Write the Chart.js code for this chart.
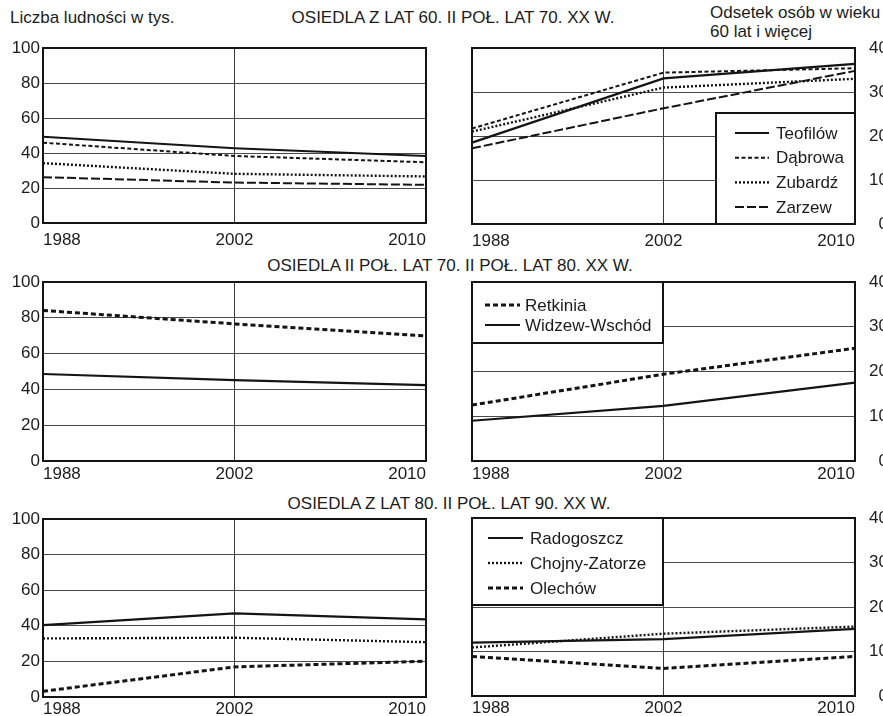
<!DOCTYPE html>
<html lang="pl">
<head>
<meta charset="utf-8">
<title>Osiedla Łodzi – ludność i odsetek osób starszych</title>
<script src="https://cdn.jsdelivr.net/npm/chart.js@4.4.1/dist/chart.umd.min.js"></script>
<style>
  html, body { margin: 0; padding: 0; width: 883px; height: 716px; overflow: hidden; background: #fff; }
  body { position: relative; font-family: "Liberation Sans", Arial, sans-serif; color: #1c1c1c; }
  .t { position: absolute; font-size: 17px; line-height: 19px; white-space: nowrap; }
  .c { text-align: center; }
  canvas { position: absolute; }
</style>
</head>
<body>
<div class="t" style="left:10px;top:8px;">Liczba ludności w tys.</div>
<div class="t c" style="left:253px;width:400px;top:8px;">OSIEDLA Z LAT 60. II POŁ. LAT 70. XX W.</div>
<div class="t" style="left:710px;top:3px;">Odsetek osób w wieku<br>60 lat i więcej</div>
<div class="t c" style="left:250px;width:400px;top:256px;">OSIEDLA II POŁ. LAT 70. II POŁ. LAT 80. XX W.</div>
<div class="t c" style="left:249px;width:400px;top:494px;">OSIEDLA Z LAT 80. II POŁ. LAT 90. XX W.</div>

<canvas id="pop1" width="440" height="250" style="left:0;top:0;"></canvas>
<canvas id="old1" width="448" height="250" style="left:440px;top:0;"></canvas>
<canvas id="pop2" width="440" height="240" style="left:0;top:250px;"></canvas>
<canvas id="old2" width="448" height="240" style="left:440px;top:250px;"></canvas>
<canvas id="pop3" width="440" height="226" style="left:0;top:490px;"></canvas>
<canvas id="old3" width="448" height="226" style="left:440px;top:490px;"></canvas>

<script>
// Years on the horizontal axis
const years = ['1988', '2002', '2010'];

// Osiedla z lat 60. – II poł. lat 70.: liczba ludności (tys.)
const teofilowPop = [49.3, 42.7, 38.3];
const dabrowaPop  = [45.9, 38.3, 34.7];
const zubardzPop  = [34.2, 28.1, 26.6];
const zarzewPop   = [26.2, 23.1, 21.8];
// ... i odsetek osób w wieku 60+ (%)
const teofilowOld = [18.5, 33.1, 36.4];
const dabrowaOld  = [21.7, 34.4, 35.4];
const zubardzOld  = [21.0, 31.0, 33.0];
const zarzewOld   = [17.2, 26.3, 34.8];

// Osiedla II poł. lat 70. – II poł. lat 80.
const retkiniaPop = [84.1, 76.6, 69.9];
const widzewPop   = [48.6, 45.2, 42.4];
const retkiniaOld = [12.5, 19.4, 25.2];
const widzewOld   = [9.0, 12.3, 17.5];

// Osiedla z lat 80. – II poł. lat 90.
const radogoszczPop = [40.4, 47.0, 43.6];
const chojnyPop     = [32.9, 33.3, 30.8];
const olechowPop    = [3.2, 16.9, 20.1];
const radogoszczOld = [12.0, 12.8, 15.1];
const chojnyOld     = [10.9, 14.0, 15.6];
const olechowOld    = [8.9, 6.2, 8.9];

// Axis ranges
const popMax = 100, popStep = 20;
const oldMax = 40, oldStep = 10;

// Line looks
const INK = '#141414';
const styles = {
  solid:    { borderDash: [],       borderWidth: 2.2 },
  shortDash:{ borderDash: [4, 2.5], borderWidth: 2 },
  dotted:   { borderDash: [2, 2],   borderWidth: 2.4 },
  longDash: { borderDash: [9, 3],   borderWidth: 2 },
  boldDash: { borderDash: [5, 3],   borderWidth: 3 }
};
const FONT = { family: '"Liberation Sans", Arial, sans-serif', size: 17 };

function series(label, data, look) {
  return Object.assign({
    label, data,
    borderColor: INK,
    backgroundColor: INK,
    pointRadius: 0,
    pointHoverRadius: 0,
    tension: 0,
    fill: false
  }, styles[look]);
}

// Black frame around the plotting area
const framePlugin = {
  id: 'frame',
  afterDraw(chart) {
    const { ctx, chartArea: a } = chart;
    ctx.save();
    ctx.strokeStyle = INK;
    ctx.lineWidth = 2;
    ctx.strokeRect(a.left, a.top, a.right - a.left, a.bottom - a.top);
    ctx.restore();
  }
};

// Boxed legend placed inside the plotting area
const boxLegendPlugin = {
  id: 'boxLegend',
  afterDraw(chart, args, o) {
    if (!o || !o.show) return;
    const { ctx, chartArea: a } = chart;
    const x = o.anchor === 'bottomRight' ? a.right - o.width : a.left;
    const y = o.anchor === 'bottomRight' ? a.bottom - o.height : a.top;
    ctx.save();
    ctx.fillStyle = '#fff';
    ctx.fillRect(x, y, o.width, o.height);
    ctx.strokeStyle = INK;
    ctx.lineWidth = 2;
    ctx.strokeRect(x, y, o.width, o.height);
    chart.data.datasets.forEach((ds, i) => {
      const cy = y + o.firstRow + i * o.rowGap;
      ctx.beginPath();
      ctx.setLineDash(ds.borderDash || []);
      ctx.lineWidth = ds.borderWidth;
      ctx.strokeStyle = ds.borderColor;
      ctx.moveTo(x + o.sampleX, cy);
      ctx.lineTo(x + o.sampleX + o.sampleLen, cy);
      ctx.stroke();
      ctx.setLineDash([]);
      ctx.fillStyle = '#1c1c1c';
      ctx.font = FONT.size + 'px ' + FONT.family;
      ctx.textBaseline = 'middle';
      ctx.textAlign = 'left';
      ctx.fillText(ds.label, x + o.textX, cy + 1);
    });
    ctx.restore();
  }
};

function makeChart(id, datasets, side, top, xAxisH, xPad, legend) {
  const isLeft = side === 'left';
  const max = isLeft ? popMax : oldMax;
  const step = isLeft ? popStep : oldStep;
  return new Chart(document.getElementById(id), {
    type: 'line',
    data: { labels: years, datasets },
    plugins: [framePlugin, boxLegendPlugin],
    options: {
      responsive: false,
      animation: false,
      events: [],
      layout: { padding: isLeft ? { top, left: 0, right: 14, bottom: 0 } : { top, left: 32, right: 0, bottom: 0 } },
      plugins: {
        legend: { display: false },
        tooltip: { enabled: false },
        boxLegend: legend || { show: false }
      },
      scales: {
        x: {
          type: 'category',
          offset: false,
          grid: { color: '#3a3a3a', lineWidth: 1, drawTicks: false },
          border: { display: false },
          ticks: { font: FONT, color: '#1c1c1c', align: 'inner', padding: xPad, maxRotation: 0, autoSkip: false },
          afterFit(s) { s.height = xAxisH; }
        },
        y: {
          position: side,
          min: 0, max,
          grid: { color: '#4a4a4a', lineWidth: 1, drawTicks: false },
          border: { display: false },
          ticks: isLeft
            ? { stepSize: step, font: FONT, color: '#1c1c1c', padding: 3 }
            : { stepSize: step, font: FONT, color: '#1c1c1c', padding: 0, crossAlign: 'far' },
          afterFit(s) { s.width = isLeft ? 43 : 33; }
        }
      }
    }
  });
}

makeChart('pop1', [
  series('Teofilów', teofilowPop, 'solid'),
  series('Dąbrowa', dabrowaPop, 'shortDash'),
  series('Zubardź', zubardzPop, 'dotted'),
  series('Zarzew', zarzewPop, 'longDash')
], 'left', 48, 27, 7);

makeChart('old1', [
  series('Teofilów', teofilowOld, 'solid'),
  series('Dąbrowa', dabrowaOld, 'shortDash'),
  series('Zubardź', zubardzOld, 'dotted'),
  series('Zarzew', zarzewOld, 'longDash')
], 'right', 48, 26, 7, {
  show: true, anchor: 'bottomRight', width: 139, height: 111,
  sampleX: 19, sampleLen: 34, textX: 60, firstRow: 20, rowGap: 24.7
});

makeChart('pop2', [
  series('Retkinia', retkiniaPop, 'boldDash'),
  series('Widzew-Wschód', widzewPop, 'solid')
], 'left', 32, 29, 3);

makeChart('old2', [
  series('Retkinia', retkiniaOld, 'boldDash'),
  series('Widzew-Wschód', widzewOld, 'solid')
], 'right', 32, 29, 3, {
  show: true, anchor: 'topLeft', width: 191, height: 61,
  sampleX: 13, sampleLen: 35, textX: 53, firstRow: 23, rowGap: 20
});

makeChart('pop3', [
  series('Radogoszcz', radogoszczPop, 'solid'),
  series('Chojny-Zatorze', chojnyPop, 'dotted'),
  series('Olechów', olechowPop, 'boldDash')
], 'left', 29, 19, 2);

makeChart('old3', [
  series('Radogoszcz', radogoszczOld, 'solid'),
  series('Chojny-Zatorze', chojnyOld, 'dotted'),
  series('Olechów', olechowOld, 'boldDash')
], 'right', 28, 20, 2, {
  show: true, anchor: 'topLeft', width: 191, height: 87,
  sampleX: 16, sampleLen: 35, textX: 58, firstRow: 20, rowGap: 25
});
</script>
</body>
</html>
